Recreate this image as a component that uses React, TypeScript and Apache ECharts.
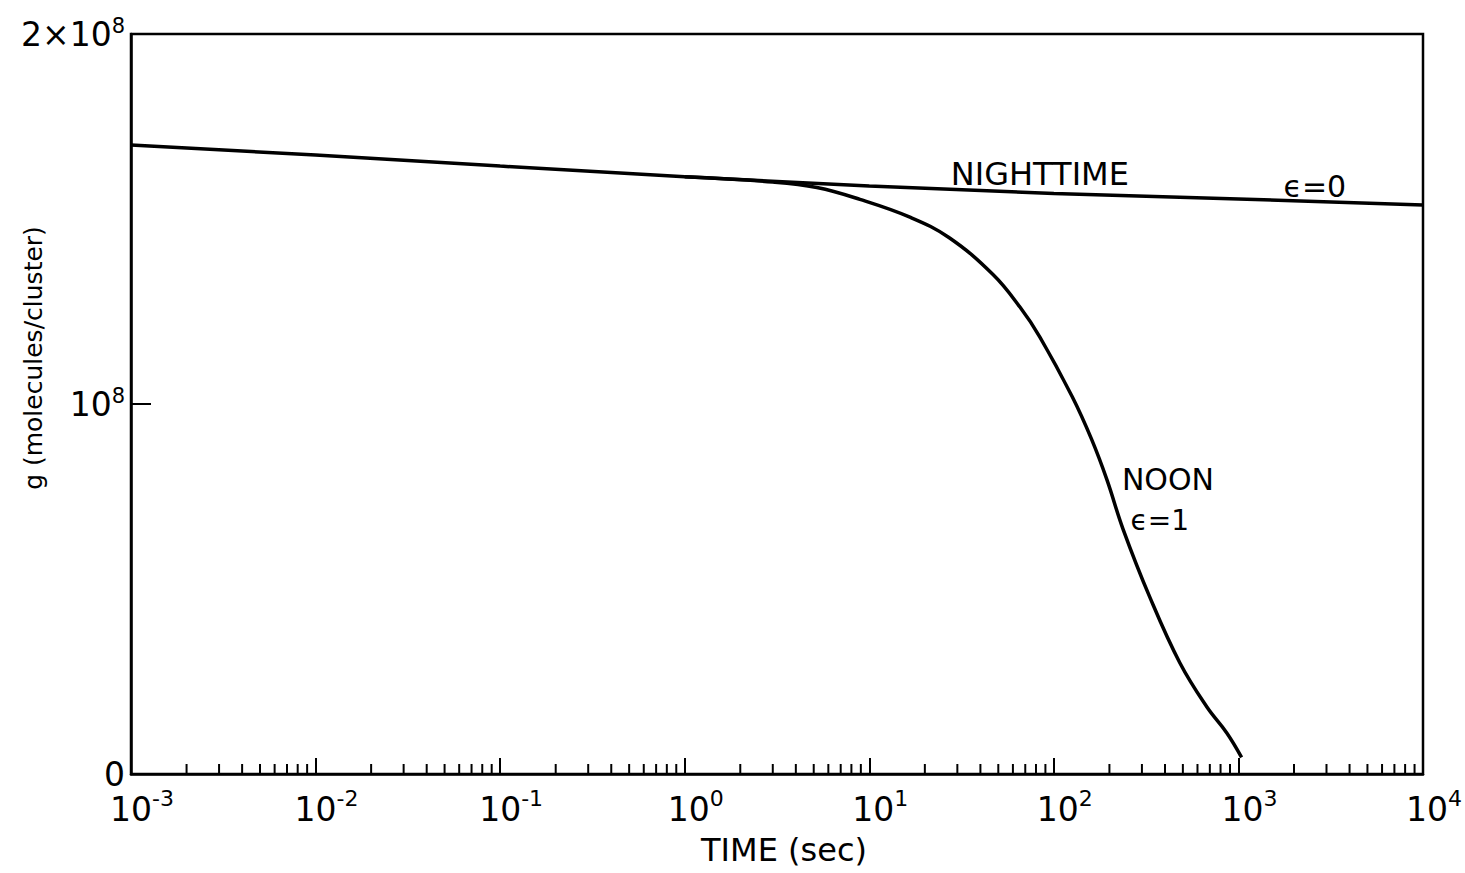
import React, { useEffect, useRef } from "react";
import * as echarts from "echarts";

const FONT = "'DejaVu Sans', 'Liberation Sans', sans-serif";

// x-axis decade exponents (tick labels 10^n)
const xExponents = [-3, -2, -1, 0, 1, 2, 3, 4];
// minor ticks: multipliers within each decade
const minorDecades = [-3, -2, -1, 0, 1, 2, 3];
const minorMultipliers = [2, 3, 4, 5, 6, 7, 8, 9];

// y tick labels
const yTickValues = [0, 1e8, 2e8];
const yTickText = ["{z|0}", "{b|10}{s|8}", "{b|2×10}{s|8}"];

// NIGHTTIME, epsilon = 0
const nightTimes = [0.001, 0.01, 0.1, 1, 10, 100, 1000, 10000];
const nightValues = [1.7e8, 1.673e8, 1.643e8, 1.614e8, 1.589e8, 1.569e8, 1.554e8, 1.538e8];

// NOON, epsilon = 1
const noonTimes = [1, 3, 5.2, 8.9, 16.6, 27, 46.8, 65.5, 84, 126, 160, 194, 237, 331, 482, 675, 865, 1040];
const noonValues = [
  1.614e8, 1.6e8, 1.585e8, 1.553e8, 1.505e8, 1.45e8, 1.35e8, 1.262e8, 1.181e8, 1.019e8, 0.905e8,
  0.795e8, 0.662e8, 0.478e8, 0.3e8, 0.181e8, 0.111e8, 0.045e8,
];

// annotation anchors (data coordinates)
const annotations = [
  { text: "NIGHTTIME", t: 84, v: 1.622e8, size: 32 },
  { text: "ϵ=0", t: 2594, v: 1.589e8, size: 30 },
  { text: "NOON", t: 415, v: 0.795e8, size: 30 },
  { text: "ϵ=1", t: 375, v: 0.686e8, size: 28 },
];

export default function App() {
  const ref = useRef<HTMLDivElement>(null);
  useEffect(() => {
    const chart = echarts.init(ref.current!, null, { renderer: "svg" });
    const minorTicks: number[][] = [];
    minorDecades.forEach((d) => minorMultipliers.forEach((m) => minorTicks.push([m * Math.pow(10, d), 0])));

    const black = "#000";
    const option: any = {
      animation: false,
      backgroundColor: "#fff",
      grid: {
        left: 131,
        right: 42,
        top: 34,
        bottom: 99,
        show: true,
        borderColor: black,
        borderWidth: 2.5,
        backgroundColor: "transparent",
      },
      xAxis: {
        type: "log",
        logBase: 10,
        min: 0.001,
        max: 10000,
        splitNumber: 7,
        axisLine: { lineStyle: { color: black, width: 2.5 } },
        axisTick: { inside: true, length: 16, lineStyle: { color: black, width: 2 } },
        splitLine: { show: false },
        axisLabel: {
          margin: 13,
          padding: [0, 0, 0, 22],
          showMinLabel: true,
          showMaxLabel: true,
          formatter: (val: number) => {
            const e = Math.round(Math.log10(val));
            if (!xExponents.includes(e)) return "";
            return `{b|10}{s|${e < 0 ? "-" + -e : e}}`;
          },
          rich: {
            b: { fontSize: 33, fontFamily: FONT, color: black, lineHeight: 44 },
            s: { fontSize: 22, fontFamily: FONT, color: black, lineHeight: 22, verticalAlign: "top" },
          },
        },
        name: "TIME (sec)",
        nameLocation: "middle",
        nameGap: 60,
        nameTextStyle: { fontSize: 32, fontFamily: FONT, color: black, padding: [0, 0, 0, 14] },
      },
      yAxis: {
        type: "value",
        min: 0,
        max: 2e8,
        interval: 1e8,
        axisLine: { show: true, lineStyle: { color: black, width: 2.5 } },
        axisTick: { show: true, inside: true, length: 20, lineStyle: { color: black, width: 2 } },
        splitLine: { show: false },
        axisLabel: {
          margin: 6,
          formatter: (val: number) => {
            const i = yTickValues.indexOf(val);
            return i >= 0 ? yTickText[i] : "";
          },
          rich: {
            z: { fontSize: 33, fontFamily: FONT, color: black, lineHeight: 24 },
            b: { fontSize: 33, fontFamily: FONT, color: black, lineHeight: 38 },
            s: { fontSize: 21, fontFamily: FONT, color: black, lineHeight: 21, verticalAlign: "top" },
          },
        },
      },
      graphic: [
        {
          type: "text",
          x: 33,
          y: 358,
          rotation: Math.PI / 2,
          style: {
            text: "g (molecules/cluster)",
            font: `25px ${FONT}`,
            fill: black,
            align: "center",
            verticalAlign: "middle",
          },
        },
      ],
      series: [
        {
          name: "NIGHTTIME",
          type: "line",
          data: nightTimes.map((t, i) => [t, nightValues[i]]),
          symbol: "none",
          lineStyle: { color: black, width: 3.5 },
          markPoint: {
            symbol: "circle",
            symbolSize: 0,
            silent: true,
            data: annotations.slice(0, 2).map((a) => ({
              coord: [a.t, a.v],
              name: a.text,
              label: { fontSize: a.size },
            })),
            label: { show: true, position: "inside", formatter: "{b}", fontFamily: FONT, color: black },
          },
        },
        {
          name: "NOON",
          type: "line",
          data: noonTimes.map((t, i) => [t, noonValues[i]]),
          symbol: "none",
          smooth: 0.4,
          lineStyle: { color: black, width: 3.5 },
          markPoint: {
            symbol: "circle",
            symbolSize: 0,
            silent: true,
            data: annotations.slice(2).map((a) => ({
              coord: [a.t, a.v],
              name: a.text,
              label: { fontSize: a.size },
            })),
            label: { show: true, position: "inside", formatter: "{b}", fontFamily: FONT, color: black },
          },
        },
        {
          name: "minorTicks",
          type: "custom",
          coordinateSystem: "cartesian2d",
          silent: true,
          clip: false,
          data: minorTicks,
          encode: { x: 0, y: 1 },
          renderItem: (params: any, api: any) => {
            const p = api.coord([api.value(0), api.value(1)]);
            return {
              type: "line",
              shape: { x1: p[0], y1: p[1], x2: p[0], y2: p[1] - 10 },
              style: { stroke: black, lineWidth: 2 },
            };
          },
        },
      ],
    };
    chart.setOption(option);
    return () => chart.dispose();
  }, []);
  return (
    <div
      ref={ref}
      style={{ position: "fixed", left: 0, top: 0, width: 1465, height: 873, background: "#fff" }}
    />
  );
}
